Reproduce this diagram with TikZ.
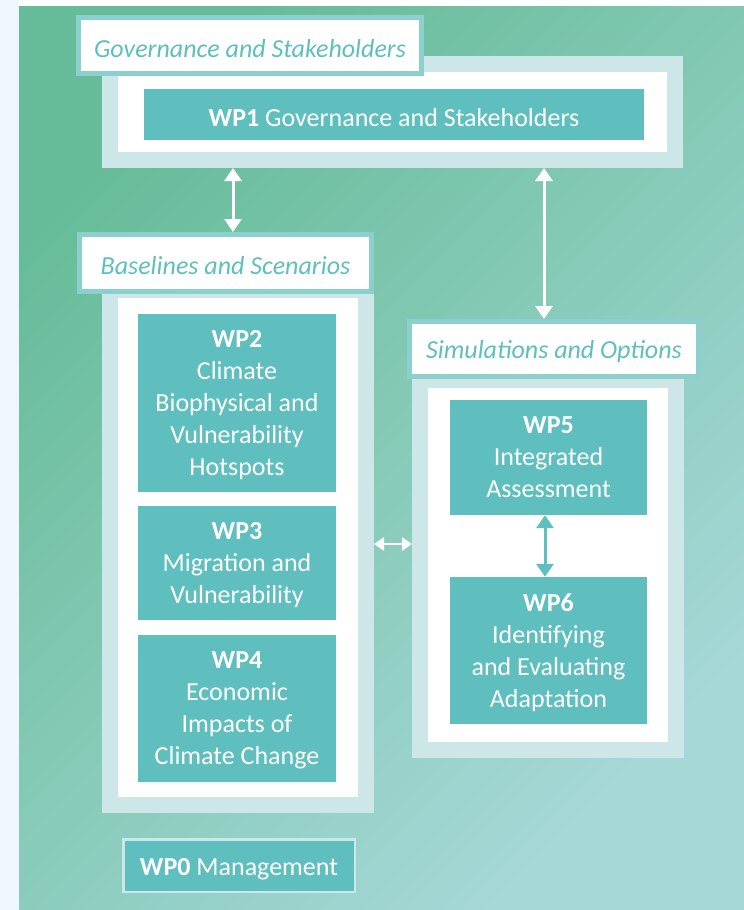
\documentclass[tikz,border=0pt]{standalone}
\usepackage{fontspec}
\setmainfont{Carlito}
\usetikzlibrary{arrows.meta}

\definecolor{wpteal}{RGB}{95,191,190}
\definecolor{framecol}{RGB}{205,231,232}
\definecolor{lblcol}{RGB}{139,207,207}
\definecolor{bgtop}{RGB}{102,188,152}
\definecolor{bgbot}{RGB}{166,216,216}
\definecolor{stripcol}{RGB}{240,246,253}

\begin{document}
\begin{tikzpicture}[x=1pt,y=-1pt,
    wp/.style={fill=wpteal,text=white,inner sep=0pt,align=center,font=\fontsize{26}{32}\selectfont,
      execute at begin node={\rule{0pt}{24pt}}},
    wplines/.style={wp,text depth=0pt},
    grp/.style={fill=white,draw=framecol,line width=16pt,inner sep=0pt},
    grplbl/.style={fill=white,draw=lblcol,line width=5pt,inner sep=0pt,text=wpteal,font=\fontsize{26}{32}\selectfont\itshape,
      execute at begin node={\rule{0pt}{24pt}}},
    dbl/.style={{Triangle[width=17pt,length=13pt]}-{Triangle[width=17pt,length=13pt]},line width=3pt},
    dblsmall/.style={{Triangle[width=13pt,length=10pt]}-{Triangle[width=13pt,length=10pt]},line width=2.5pt}]
    \useasboundingbox (0,0) rectangle (744,910);
    \fill[stripcol] (0,0) rectangle (744,910);
    \fill[white] (19,0) rectangle (744,6);
    \shade[top color=bgtop,bottom color=bgbot,shading angle=45] (19,6) rectangle (744,910);

    % governance
    \node[grp,minimum width=565pt,minimum height=96pt] (gov) at (392.5,112) {};
    \node[grplbl,minimum width=343pt,minimum height=56pt] (govlbl) at (250,45.5) {Governance and Stakeholders};
    \node[wp,minimum width=500pt,minimum height=51pt] (wp1) at (394,114.5) {\textbf{WP1} Governance and Stakeholders};

    % baselines
    \node[grp,minimum width=256pt,minimum height=515pt] (basfrm) at (238,547.5) {};
    \node[grplbl,minimum width=292pt,minimum height=57pt] (baslbl) at (225.5,263) {Baselines and Scenarios};
    \node[wplines,minimum width=198pt,minimum height=178pt] (wp2) at (237,403) {\textbf{WP2}\\Climate\\Biophysical and\\Vulnerability\\Hotspots};
    \node[wplines,minimum width=198pt,minimum height=114pt] (wp3) at (237,563) {\textbf{WP3}\\Migration and\\Vulnerability};
    \node[wplines,minimum width=198pt,minimum height=147pt] (wp4) at (237,708.5) {\textbf{WP4}\\Economic\\Impacts of\\Climate Change};

    % simulations
    \node[grp,minimum width=256pt,minimum height=370pt] (simfrm) at (548,565) {};
    \node[grplbl,minimum width=289pt,minimum height=55pt] (simlbl) at (554,349) {Simulations and Options};
    \node[wplines,minimum width=197pt,minimum height=115pt] (wp5) at (548.5,457.5) {\textbf{WP5}\\Integrated\\Assessment};
    \node[wplines,minimum width=197pt,minimum height=147pt] (wp6) at (548.5,650.5) {\textbf{WP6}\\Identifying\\and Evaluating\\Adaptation};

    \node[wp,draw=framecol,line width=2.5pt,minimum width=231.5pt,minimum height=52.5pt] (wp0) at (239,865.5) {\textbf{WP0} Management};

    % arrows
    \coordinate (l) at (233,0);
    \coordinate (r) at (544,0);
    \coordinate (t) at (545,0);
    \coordinate (m) at (0,544);
    \draw[dbl,white] (gov.south -| l) -- (baslbl.north -| l);
    \draw[dbl,white] (gov.south -| r) -- (simlbl.north -| r);
    \draw[dblsmall,white] (basfrm.east |- m) -- (simfrm.west |- m);
    \draw[dbl,wpteal] (wp5.south -| t) -- (wp6.north -| t);
\end{tikzpicture}
\end{document}
